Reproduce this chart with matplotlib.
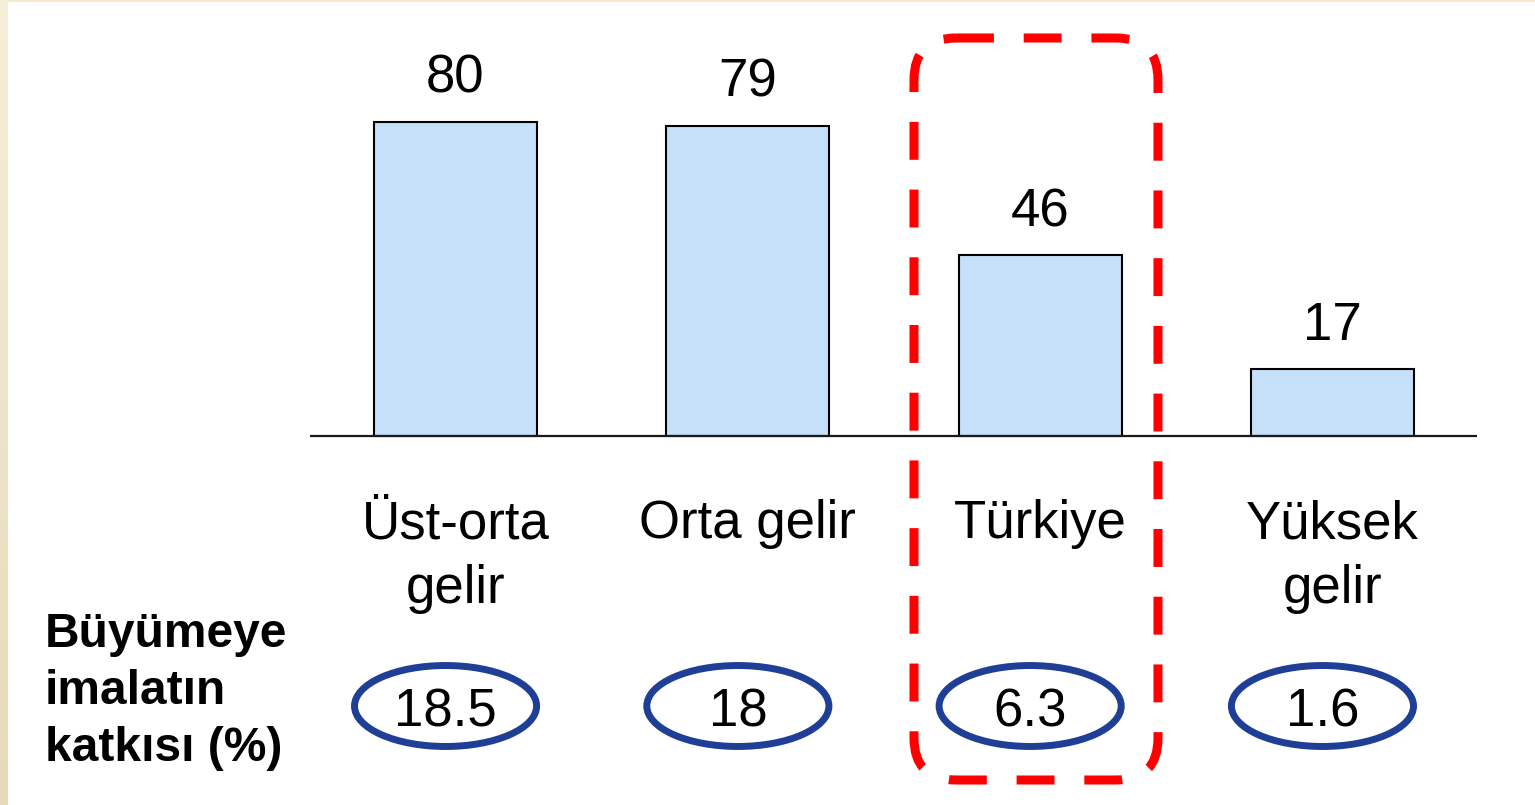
import matplotlib
matplotlib.use("Agg")
import matplotlib.pyplot as plt
import numpy as np
from matplotlib.patches import Ellipse, FancyBboxPatch, Rectangle

plt.rcParams['font.family'] = ['Liberation Sans', 'DejaVu Sans']

# data
categories = ['Üst-orta\ngelir', 'Orta gelir', 'Türkiye', 'Yüksek\ngelir']
values = [80, 79, 46, 17]
contrib = ['18.5', '18', '6.3', '1.6']
row_label = 'Büyümeye\nimalatın\nkatkısı (%)'

W, H = 1535, 805
px_per_unit = 3.93     # vertical scale of the bars
px_per_cat = 292.3     # horizontal spacing of the bars
base_px = 436          # baseline position (from top)

fig = plt.figure(figsize=(W / 100, H / 100), dpi=100, facecolor='#F3E9CF')

# background: white page with beige frame on left/top
bg = fig.add_axes([0, 0, 1, 1], zorder=0)
grad = np.linspace(0, 1, 256)[:, None]
top_c = np.array([0xF6, 0xEE, 0xD8]) / 255
bot_c = np.array([0xE6, 0xDA, 0xB9]) / 255
img = top_c[None, None, :] * (1 - grad[:, :, None]) + bot_c[None, None, :] * grad[:, :, None]
bg.imshow(img, extent=(0, 8, H, 0), aspect='auto')
bg.add_patch(Rectangle((8, 2), W - 8, H - 2, facecolor='white', edgecolor='none'))
bg.set_xlim(0, W)
bg.set_ylim(H, 0)
bg.axis('off')

# main axes
left_px, right_px = 310, 1477
ax = fig.add_axes([left_px / W, 0, (right_px - left_px) / W, 1], zorder=1)
ax.set_facecolor('none')
first_c = 455.5
ax.set_xlim((left_px - first_c) / px_per_cat, (right_px - first_c) / px_per_cat)
ax.set_ylim((base_px - H) / px_per_unit, base_px / px_per_unit)
ax.axis('off')

x = np.arange(len(values))
ax.bar(x, values, width=0.558, color='#C6E0F9', edgecolor='black', linewidth=1.5, zorder=2)
ax.axhline(0, color='#1a1a1a', linewidth=1.6, zorder=3)

for xi, v in zip(x, values):
    ax.annotate(str(v), (xi, v), xytext=(0, 21), textcoords='offset points',
                ha='center', va='baseline', fontsize=38)

# category labels, one text per line
for xi, c in zip(x, categories):
    for i, line in enumerate(c.split('\n')):
        y = (base_px - 538 - i * 65) / px_per_unit
        ax.text(xi, y, line, ha='center', va='baseline', fontsize=38)

ell_y = (base_px - 706) / px_per_unit
txt_y = (base_px - 726) / px_per_unit
for xi, c in zip(x, contrib):
    ax.add_patch(Ellipse((xi - 0.034, ell_y), 0.623, 20.6, facecolor='none',
                         edgecolor='#1F3E96', linewidth=5, zorder=3))
    ax.text(xi - 0.033, txt_y, c, ha='center', va='baseline', fontsize=38)

# overlay in pixel units: row label and highlight box
ov = fig.add_axes([0, 0, 1, 1], zorder=3)
ov.set_facecolor('none')
ov.set_xlim(0, W)
ov.set_ylim(H, 0)
ov.axis('off')

for i, line in enumerate(row_label.split('\n')):
    ov.text(45, 647 + i * 57, line, ha='left', va='baseline', fontsize=34.5,
            fontweight='bold')

box = FancyBboxPatch((914, 38), 244, 742, boxstyle='round,pad=0,rounding_size=42',
                     facecolor='none', edgecolor='#FF0000', linewidth=6.5,
                     linestyle=(0, (4.2, 3.3)), capstyle='butt')
ov.add_patch(box)

fig.savefig('out.png', dpi=100, facecolor=fig.get_facecolor())
